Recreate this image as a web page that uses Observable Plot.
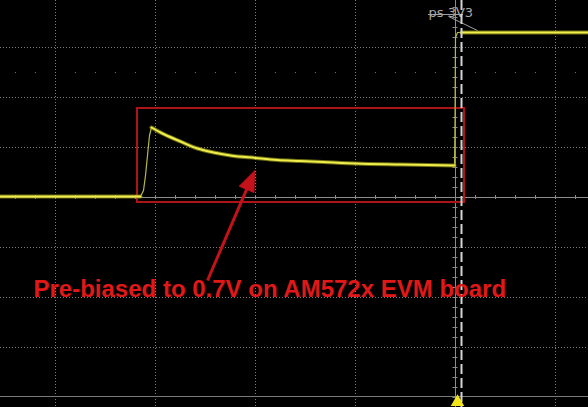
<!DOCTYPE html>
<html><head><meta charset="utf-8">
<script src="https://cdn.jsdelivr.net/npm/d3@7"></script>
<script src="https://cdn.jsdelivr.net/npm/@observablehq/plot@0.6"></script>
<style>html,body{margin:0;padding:0;background:#000;overflow:hidden}#chart svg{display:block}</style>
</head><body><div id="chart"></div>
<script>
// time in divisions (0 = trigger), volts (1 V/div, 0 = centre line)
const baseT = [-4.55, -3.15];
const baseV = [0.02, 0.02];
const riseT = [-3.15, -3.12, -3.10, -3.08, -3.06, -3.04];
const riseV = [0.02, 0.14, 0.44, 0.84, 1.24, 1.40];
const decayT = [-3.04, -2.95, -2.75, -2.58, -2.42, -2.25, -2.00, -1.78, -1.55, -1.22, -1.00, -0.55, -0.01];
const decayV = [1.40, 1.30, 1.12, 0.98, 0.90, 0.84, 0.79, 0.75, 0.73, 0.70, 0.68, 0.66, 0.64];
const stepT = [-0.01, -0.005, 0.00, 0.02, 0.06];
const stepV = [0.64, 1.50, 3.20, 3.30, 3.30];
const topT = [0.06, 1.33];
const topV = [3.30, 3.30];

const gridT = [-4, -3, -2, -1, 0, 1];
const gridV = [3, 2, 1, -1, -2, -3];
const bottomV = -3.98;
const cursorT = 0.06;
const triggerT = 0.02;

const box = {t1: -3.18, t2: 0.09, v1: -0.10, v2: 1.78};
const arrowTail = {t: -2.48, v: -1.66};
const arrowTip = {t: -2.01, v: 0.53};
const noteText = "Pre-biased to 0.7V on AM572x EVM board";
const notePos = {t: -4.22, v: -1.98};
const chLabel = "ps 3V3";
const chLabelPos = {t: -0.27, v: 3.70};

const xDomain = [-4.55, 1.33], yDomain = [-4.2, 3.94];
const W = 588, H = 407;
const xs = d3.scaleLinear(xDomain, [0, W]);
const ys = d3.scaleLinear(yDomain, [H, 0]);

// arrow head (filled triangle) built in pixel space, then mapped back to data
const tipPx = [xs(arrowTip.t), ys(arrowTip.v)];
const tailPx = [xs(arrowTail.t), ys(arrowTail.v)];
const dx = tipPx[0] - tailPx[0], dy = tipPx[1] - tailPx[1];
const len = Math.hypot(dx, dy), ux = dx / len, uy = dy / len;
const hl = 20, hw = 8;
const bc = [tipPx[0] - hl * ux, tipPx[1] - hl * uy];
const headPx = [tipPx, [bc[0] - hw * uy, bc[1] + hw * ux], [bc[0] + hw * uy, bc[1] - hw * ux], tipPx];
const head = headPx.map(([px, py]) => ({t: xs.invert(px), v: ys.invert(py)}));
const shaftEnd = {t: xs.invert(bc[0] + 2 * ux), v: ys.invert(bc[1] + 2 * uy)};

const zip = (T, V) => T.map((t, i) => ({t, v: V[i]}));
const hTicks = d3.range(-4.4, 1.4, 0.2);
const vTicks = d3.range(-4, 4.01, 0.2);

const grid = "#7c7c7c";
const yellowCore = "#efed4c", yellowHalo = "#9a9a1c";

const plot = Plot.plot({
  width: W, height: H, margin: 0,
  x: {domain: xDomain, range: [0, W], axis: null},
  y: {domain: yDomain, range: [H, 0], axis: null},
  style: {background: "#000", overflow: "visible"},
  marks: [
    Plot.ruleY(gridV, {stroke: grid, strokeDasharray: "1,2"}),
    Plot.ruleX(gridT, {stroke: grid, strokeDasharray: "1,2"}),
    Plot.dot(hTicks, {x: d => d, y: () => 2.5, r: 0.6, fill: grid, stroke: null}),
    Plot.ruleY([0], {stroke: "#8c8c8c"}),
    Plot.ruleX(hTicks, {x: d => d, y1: -0.04, y2: 0.04, stroke: "#8c8c8c"}),
    Plot.ruleY([bottomV], {stroke: "#7a7a7a"}),
    Plot.ruleX([0], {stroke: "#8c8c8c"}),
    Plot.ruleY(vTicks, {y: d => d, x1: -0.025, x2: 0.025, stroke: "#8c8c8c"}),
    Plot.rect([box], {x1: "t1", x2: "t2", y1: "v1", y2: "v2", fill: "none", stroke: "#ac141a", strokeWidth: 2}),
    // trace
    Plot.line(zip(riseT, riseV), {x: "t", y: "v", stroke: "#b8b848", strokeWidth: 1.2}),
    Plot.line(zip(stepT, stepV), {x: "t", y: "v", stroke: "#b8b848", strokeWidth: 1.2}),
    ...[zip(baseT, baseV), zip(decayT, decayV), zip(topT, topV)].flatMap(d => [
      Plot.line(d, {x: "t", y: "v", stroke: yellowHalo, strokeWidth: 4, strokeOpacity: 0.7, curve: "monotone-x"}),
      Plot.line(d, {x: "t", y: "v", stroke: yellowCore, strokeWidth: 2, curve: "monotone-x"})
    ]),
    // channel label
    Plot.text([chLabelPos], {x: "t", y: "v", text: () => chLabel, textAnchor: "start", fontSize: 13, fill: "#a8a8a8", fontFamily: "DejaVu Sans, sans-serif"}),
    Plot.ruleY([3.66], {x1: -0.27, x2: 0.08, stroke: "#a0a0a0"}),
    Plot.link([{t1: -0.07, v1: 3.62, t2: 0.22, v2: 3.34}], {x1: "t1", y1: "v1", x2: "t2", y2: "v2", stroke: "#a0a0a0"}),
    Plot.ruleX([cursorT], {stroke: "#d4d4d4", strokeWidth: 2, strokeDasharray: "10,4"}),
    Plot.dot([{t: triggerT, v: -4.09}], {x: "t", y: "v", symbol: "triangle", r: 5, fill: "#f4e41c", stroke: null}),
    // annotation
    Plot.link([{a: arrowTail, b: shaftEnd}], {x1: d => d.a.t, y1: d => d.a.v, x2: d => d.b.t, y2: d => d.b.v, stroke: "#c4121a", strokeWidth: 3}),
    Plot.line(head, {x: "t", y: "v", fill: "#c4121a", stroke: "#c4121a", strokeWidth: 1}),
    Plot.text([notePos], {x: "t", y: "v", text: () => noteText, textAnchor: "start", lineAnchor: "bottom", fontSize: 24, fontWeight: "bold", fill: "#e01818", fontFamily: "Liberation Sans, Arial, sans-serif"})
  ]
});
document.getElementById("chart").appendChild(plot);
</script>
</body></html>
